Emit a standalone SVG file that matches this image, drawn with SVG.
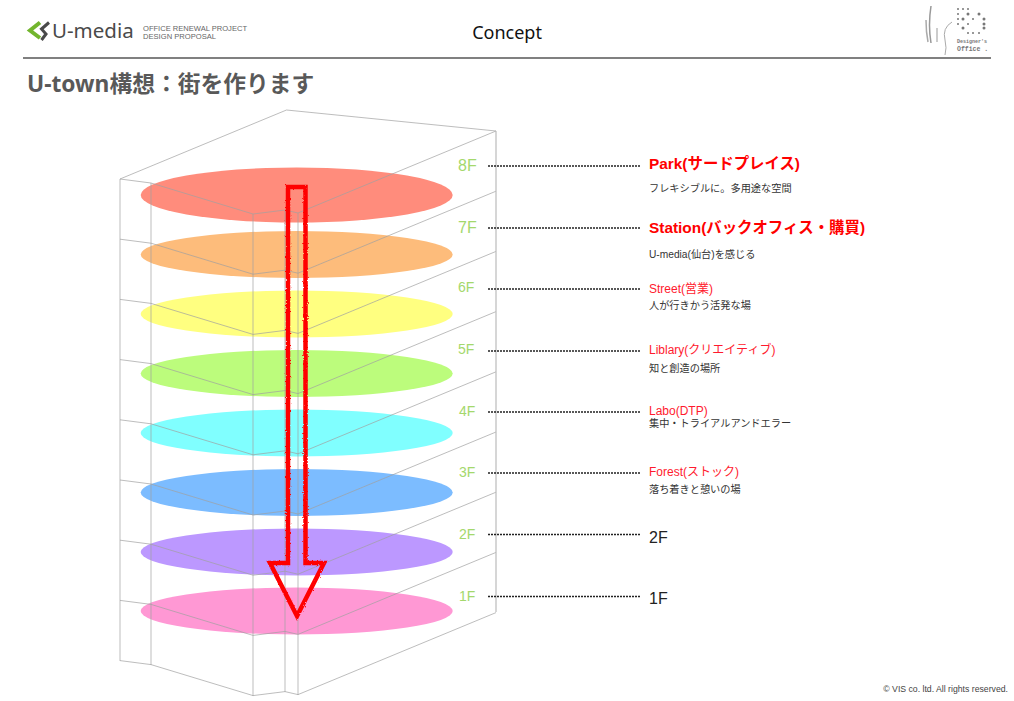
<svg xmlns="http://www.w3.org/2000/svg" xmlns:xlink="http://www.w3.org/1999/xlink" width="1014" height="701" viewBox="0 0 1014 701">
<style>
text{font-family:"Liberation Sans","Noto Sans CJK JP",sans-serif}
.fl{fill:#a4d86c}
.h{fill:#ff0000;font-weight:bold;font-size:15.4px}
.s{fill:#ff1a2e;font-size:12px}
.d{fill:#333;font-size:10.2px}
.n{fill:#222;font-size:16px}
.w{fill:none;stroke:#a0a0a0;stroke-width:.7}
.lead{fill:none;stroke:#222;stroke-width:1.6;stroke-dasharray:2 1}
</style>
<defs>
<filter id="rough" x="-20%" y="-5%" width="140%" height="110%">
<feTurbulence type="fractalNoise" baseFrequency="0.6" numOctaves="2" seed="3"/>
<feDisplacementMap in="SourceGraphic" scale="2.5"/>
</filter>
<path id="floor" class="w" d="M120 179 151 183 253 214 285 210 298 213 496 131"/>
</defs>
<rect width="1014" height="701" fill="#fff"/>
<g id="header">
<path d="M40 22.500 30 30.500 40 38" fill="none" stroke="#72b52d" stroke-width="4"/>
<path d="M49 22.500 41.500 29 46 34 41.500 40" fill="none" stroke="#4a4a4a" stroke-width="3"/>
<text x="52" y="37.500" font-size="20.500" fill="#4a4a4a" style="font-family:'Noto Sans','Liberation Sans',sans-serif">U-media</text>
<text x="143" y="30.500" font-size="7" fill="#666" textLength="104" lengthAdjust="spacingAndGlyphs">OFFICE RENEWAL PROJECT</text>
<text x="143" y="38.500" font-size="7" fill="#666" textLength="73" lengthAdjust="spacingAndGlyphs">DESIGN PROPOSAL</text>
<text x="507" y="39" font-size="18" fill="#111" text-anchor="middle" style="font-family:'Noto Sans','Liberation Sans',sans-serif">Concept</text>
<path d="M23 58H991" stroke="#808080" stroke-width="2"/>
<text x="27" y="92" font-size="22.750" font-weight="bold" fill="#595959" style="font-family:'Noto Sans','Noto Sans CJK JP',sans-serif">U-town構想：街を作ります</text>
</g>
<g id="vis-logo" fill="#777">
<path d="M931 6Q928 25 931 43" fill="none" stroke="#999" stroke-width="1.500"/>
<path d="M926 20Q926 32 928 42" fill="none" stroke="#aaa" stroke-width="1.500"/>
<path d="M937 28V42" stroke="#aaa" stroke-width="1.200"/>
<path d="M952 22Q942 28 945 40 947 48 945 55" fill="none" stroke="#aaa" stroke-width="1"/>
<circle cx="958" cy="9" r="1"/><circle cx="963" cy="9" r="1"/><circle cx="968" cy="9" r="1"/>
<circle cx="958" cy="14" r="1"/><circle cx="968" cy="14" r="1.500"/><circle cx="979" cy="14" r="1.500"/>
<circle cx="958" cy="19" r="1"/><circle cx="963" cy="19" r="1.500"/><circle cx="973" cy="19" r="1"/><circle cx="984" cy="19" r="1.500"/>
<circle cx="958" cy="24" r="1"/><circle cx="968" cy="24" r="1"/><circle cx="984" cy="24" r="1.500"/>
<circle cx="963" cy="28" r="1.500"/><circle cx="984" cy="28" r="1.500"/>
<circle cx="968" cy="33" r="1"/><circle cx="973" cy="33" r="1"/><circle cx="979" cy="33" r="1"/>
<text x="957" y="43" font-size="5" font-weight="bold" fill="#777" style="font-family:'Liberation Mono',monospace">Designer's</text>
<text x="957" y="51" font-size="6.500" font-weight="bold" fill="#777" style="font-family:'Liberation Mono',monospace">Office .</text>
</g>
<g id="floor-discs">
<ellipse id="disc-8f" cx="296.700" cy="195" rx="156" ry="27.500" fill="#ff8c7c"/>
<ellipse id="disc-7f" cx="296.700" cy="254.500" rx="156" ry="23.500" fill="#fdbc7b"/>
<ellipse id="disc-6f" cx="296.700" cy="314" rx="156" ry="23.500" fill="#ffff80"/>
<ellipse id="disc-5f" cx="296.700" cy="373.500" rx="156" ry="23.500" fill="#bcfc7c"/>
<ellipse id="disc-4f" cx="296.700" cy="433" rx="156" ry="23.500" fill="#80ffff"/>
<ellipse id="disc-3f" cx="296.700" cy="492.500" rx="156" ry="23.500" fill="#7cbcff"/>
<ellipse id="disc-2f" cx="296.700" cy="552" rx="156" ry="23.500" fill="#bc98ff"/>
<ellipse id="disc-1f" cx="296.700" cy="611" rx="156" ry="23.500" fill="#ff98d4"/>
</g>
<g id="building">
<path class="w" d="M120 179 286.500 110 496 131"/>
<use xlink:href="#floor"/>
<use xlink:href="#floor" y="60.200"/>
<use xlink:href="#floor" y="120.400"/>
<use xlink:href="#floor" y="180.600"/>
<use xlink:href="#floor" y="240.800"/>
<use xlink:href="#floor" y="301"/>
<use xlink:href="#floor" y="361.200"/>
<use xlink:href="#floor" y="421.400"/>
<use xlink:href="#floor" y="481.600"/>
<path class="w" d="M120 179V661M151 183V665M253 214V696M285 210V692M298 213V695"/>
<path d="M496 131V612" fill="none" stroke="#bbb" stroke-width="1.200"/>
</g>
<path id="flow-arrow" filter="url(#rough)" d="M288 187H305.500V563H324L297 616 270 563H288Z" fill="none" stroke="#ff0000" stroke-width="4.500"/>
<g id="connectors">
<path class="lead" d="M488 166H641"/>
<path class="lead" d="M488 228H641"/>
<path class="lead" d="M488 289H641"/>
<path class="lead" d="M488 351H641"/>
<path class="lead" d="M488 412H641"/>
<path class="lead" d="M488 473H641"/>
<path class="lead" d="M488 534.500H641"/>
<path class="lead" d="M488 596.500H641"/>
</g>
<g id="node-8f"><text class="fl" x="458" y="171" font-size="16">8F</text><text class="h" x="649" y="169">Park(サードプレイス)</text><text class="d" x="649" y="192">フレキシブルに。多用途な空間</text></g>
<g id="node-7f"><text class="fl" x="458" y="233" font-size="16">7F</text><text class="h" x="649" y="233">Station(バックオフィス・購買)</text><text class="d" x="649" y="258">U-media(仙台)を感じる</text></g>
<g id="node-6f"><text class="fl" x="458" y="292" font-size="14">6F</text><text class="s" x="649" y="293">Street(営業)</text><text class="d" x="649" y="309">人が行きかう活発な場</text></g>
<g id="node-5f"><text class="fl" x="458" y="354" font-size="14">5F</text><text class="s" x="649" y="354">Liblary(クリエイティブ)</text><text class="d" x="649" y="372">知と創造の場所</text></g>
<g id="node-4f"><text class="fl" x="459" y="416" font-size="14">4F</text><text class="s" x="649" y="415">Labo(DTP)</text><text class="d" x="649" y="427">集中・トライアルアンドエラー</text></g>
<g id="node-3f"><text class="fl" x="459" y="477" font-size="14">3F</text><text class="s" x="649" y="476">Forest(ストック)</text><text class="d" x="649" y="493">落ち着きと憩いの場</text></g>
<g id="node-2f"><text class="fl" x="459" y="539" font-size="14">2F</text><text class="n" x="649" y="543">2F</text></g>
<g id="node-1f"><text class="fl" x="459" y="601" font-size="14">1F</text><text class="n" x="649" y="604">1F</text></g>
<text id="copyright" x="1008" y="692" font-size="8.700" fill="#444" text-anchor="end">© VIS co. ltd. All rights reserved.</text>
</svg>
